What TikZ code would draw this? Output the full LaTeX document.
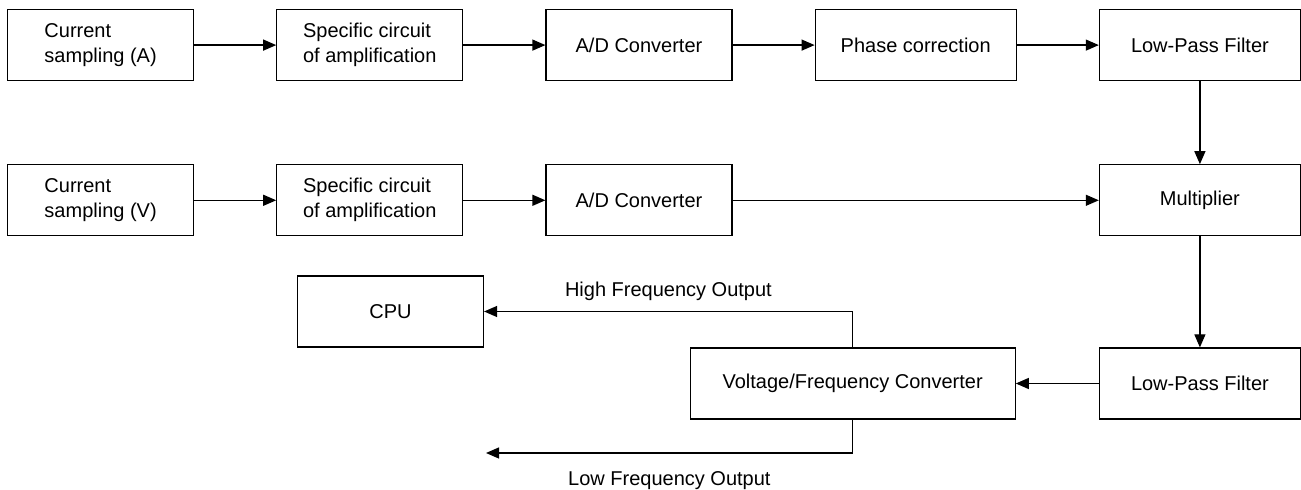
\documentclass[tikz,border=0pt]{standalone}
\usepackage{fontspec}
\setmainfont{Liberation Sans}
\usetikzlibrary{positioning,arrows.meta}

\begin{document}
\begin{tikzpicture}[
  font=\fontsize{10pt}{12.5pt}\selectfont,
  blk/.style={draw, semithick, align=center, inner sep=2pt,
              minimum height=35.5pt, minimum width=93pt},
  wblk/.style={blk, minimum width=100.5pt},
  arr/.style={-{Triangle[length=6.5pt,width=5.5pt]}, semithick},
  lab/.style={inner sep=0pt}
]
\useasboundingbox (0,0) rectangle (650.5pt,-245pt);
% ================= current channel (A) =================
\node[blk, align=left, anchor=north west] (ina) at (3.5pt,-4.5pt) {Current\\sampling (A)};
\node[blk, align=left, right=41pt of ina] (ampa) {Specific circuit\\of amplification};
\node[blk, right=41pt of ampa] (ada) {A/D Converter};
\node[wblk, right=41pt of ada] (phase) {Phase correction};
\node[wblk, right=41pt of phase] (lpfa) {Low-Pass Filter};
\foreach \a/\b in {ina/ampa, ampa/ada, ada/phase, phase/lpfa}{\draw[arr] (\a) -- (\b);}
% ================= voltage channel (V) =================
\node[blk, align=left, below=41.5pt of ina] (inv) {Current\\sampling (V)};
\node[blk, align=left, below=41.5pt of ampa] (ampv) {Specific circuit\\of amplification};
\node[blk, below=41.5pt of ada] (adv) {A/D Converter};
\node[wblk, below=41.5pt of lpfa] (mult) {Multiplier};
\foreach \a/\b in {inv/ampv, ampv/adv, adv/mult, lpfa/mult}{\draw[arr] (\a) -- (\b);}
% ================= output stage =================
\node[wblk, below=55.5pt of mult] (lpfb) {Low-Pass Filter};
\node[blk, minimum width=162.5pt, left=41.5pt of lpfb] (vf) {Voltage/Frequency Converter};
\node[blk] (cpu) at (195.25pt,-155.75pt) {CPU};
\draw[arr] (mult) -- (lpfb);
\draw[arr] (lpfb) -- (vf);
% high frequency to the CPU, low frequency out to the left
\coordinate (lfend) at (243pt,-226.5pt);
\draw[arr] (vf.north) |- (cpu.east)
  node[lab, pos=0.75, above=5pt] {High Frequency Output};
\draw[arr] (vf.south) |- (lfend)
  node[lab, pos=0.75, below=9pt] {Low Frequency Output};
\end{tikzpicture}
\end{document}
